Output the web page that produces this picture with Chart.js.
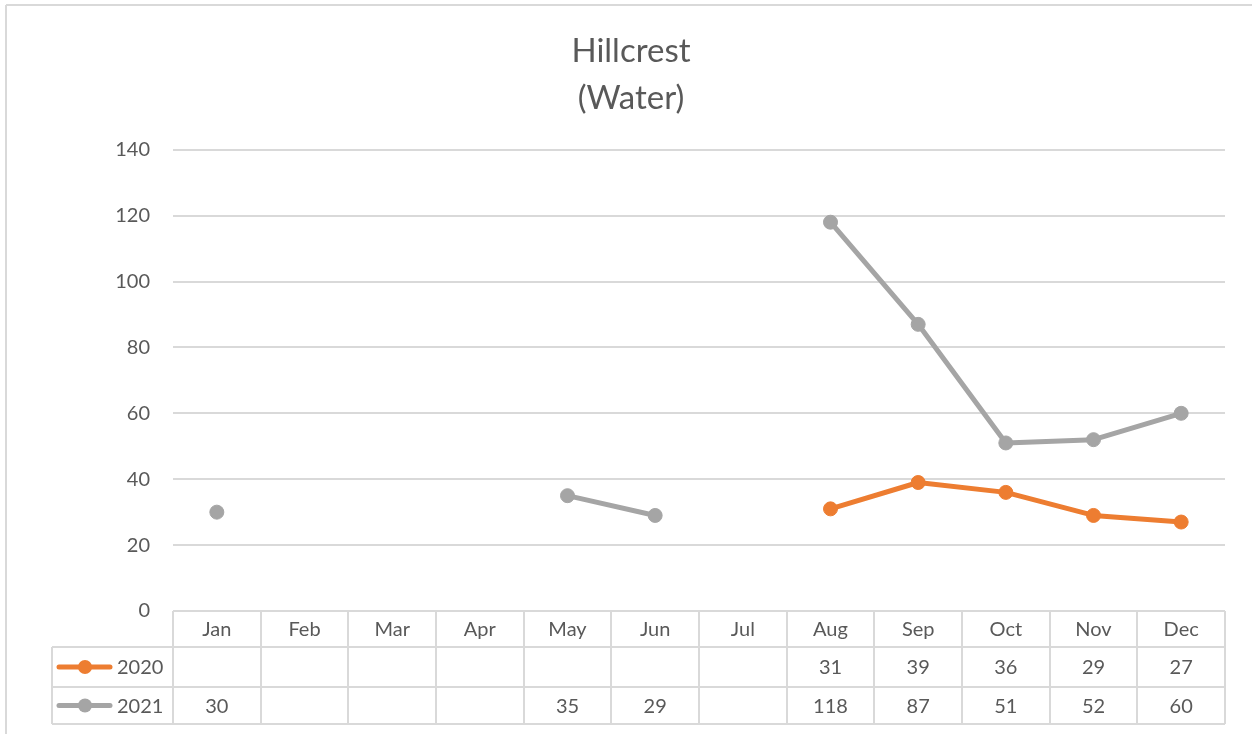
<!DOCTYPE html>
<html>
<head>
<meta charset="utf-8">
<script src="https://cdn.jsdelivr.net/npm/chart.js@4"></script>
<style>
  html, body { margin: 0; padding: 0; background: #fff; }
  #wrap { width: 1252px; height: 734px; position: relative; }
</style>
</head>
<body>
<div id="wrap"><canvas id="chart"></canvas></div>
<script>
const months = ["Jan","Feb","Mar","Apr","May","Jun","Jul","Aug","Sep","Oct","Nov","Dec"];
const water2020 = [null, null, null, null, null, null, null, 31, 39, 36, 29, 27];
const water2021 = [30, null, null, null, 35, 29, null, 118, 87, 51, 52, 60];
const yTicks = [0, 20, 40, 60, 80, 100, 120, 140];

const TEXT = "#595959";
const GRID = "#D9D9D9";
const FONT = "Lato, 'Open Sans', sans-serif";

// data table under the plot, columns follow the category scale
const dataTable = {
  id: "dataTable",
  beforeDraw(chart){
    const c = chart.ctx;
    c.save();
    c.strokeStyle = GRID;
    c.lineWidth = 2;
    c.beginPath();
    c.moveTo(6, 5); c.lineTo(1252, 5);
    c.moveTo(6, 5); c.lineTo(6, 734);
    c.stroke();
    c.restore();
  },
  afterDraw(chart){
    const c = chart.ctx;
    const x = chart.scales.x;
    const area = chart.chartArea;
    const step = x.getPixelForValue(1) - x.getPixelForValue(0);
    const rows = [area.bottom, area.bottom + 36, area.bottom + 76, area.bottom + 113];
    const legendLeft = 52;

    c.save();
    c.strokeStyle = GRID;
    c.lineWidth = 2;
    c.beginPath();
    c.moveTo(area.left, rows[0]); c.lineTo(area.right, rows[0]);
    for (let r = 1; r < rows.length; r++){
      c.moveTo(legendLeft, rows[r]); c.lineTo(area.right, rows[r]);
    }
    c.moveTo(legendLeft, rows[1]); c.lineTo(legendLeft, rows[3]);
    for (let i = 0; i <= months.length; i++){
      const px = Math.round(x.getPixelForValue(i) - step / 2);
      c.moveTo(px, rows[0]); c.lineTo(px, rows[3]);
    }
    c.stroke();

    c.font = "20px " + FONT;
    c.fillStyle = TEXT;
    c.textAlign = "center";
    c.textBaseline = "middle";
    months.forEach((m, i) => c.fillText(m, x.getPixelForValue(i), (rows[0] + rows[1]) / 2 + 1));

    chart.data.datasets.forEach((ds, d) => {
      const cy = (rows[d + 1] + rows[d + 2]) / 2 + 1;
      ds.data.forEach((v, i) => {
        if (v !== null) c.fillText(String(v), x.getPixelForValue(i), cy);
      });
      // legend key
      c.strokeStyle = ds.borderColor;
      c.lineWidth = 5;
      c.lineCap = "round";
      c.beginPath();
      c.moveTo(59, cy - 1); c.lineTo(110, cy - 1);
      c.stroke();
      c.fillStyle = ds.borderColor;
      c.beginPath();
      c.arc(85, cy - 1, 7, 0, Math.PI * 2);
      c.fill();
      c.fillStyle = TEXT;
      c.textAlign = "left";
      c.fillText(ds.label, 117, cy);
      c.textAlign = "center";
    });
    c.restore();
  }
};

new Chart(document.getElementById("chart"), {
  type: "line",
  data: {
    labels: months,
    datasets: [
      { label: "2020", data: water2020, borderColor: "#ED7D31", backgroundColor: "#ED7D31" },
      { label: "2021", data: water2021, borderColor: "#A5A5A5", backgroundColor: "#A5A5A5" }
    ]
  },
  options: {
    responsive: true,
    maintainAspectRatio: false,
    animation: false,
    layout: { padding: { left: 37, right: 27, top: 0, bottom: 123 } },
    elements: {
      line: { borderWidth: 5, borderCapStyle: "round", borderJoinStyle: "round", tension: 0 },
      point: { radius: 7, borderWidth: 1, hoverRadius: 7 }
    },
    plugins: {
      legend: { display: false },
      tooltip: { enabled: false },
      title: {
        display: true,
        text: ["Hillcrest", "(Water)"],
        color: TEXT,
        font: { family: FONT, size: 33, weight: "normal", lineHeight: 1.42 },
        padding: { top: 28, bottom: 28 }
      }
    },
    scales: {
      x: {
        display: false,
        offset: true
      },
      y: {
        min: 0,
        max: 140,
        afterFit(scale){ scale.width = 136; },
        afterBuildTicks(scale){ scale.ticks = yTicks.map(v => ({ value: v })); },
        border: { display: false },
        grid: { color: GRID, lineWidth: 2, drawTicks: false },
        ticks: {
          color: TEXT,
          padding: 23,
          font: { family: FONT, size: 20 }
        }
      }
    }
  },
  plugins: [dataTable]
});
</script>
</body>
</html>
